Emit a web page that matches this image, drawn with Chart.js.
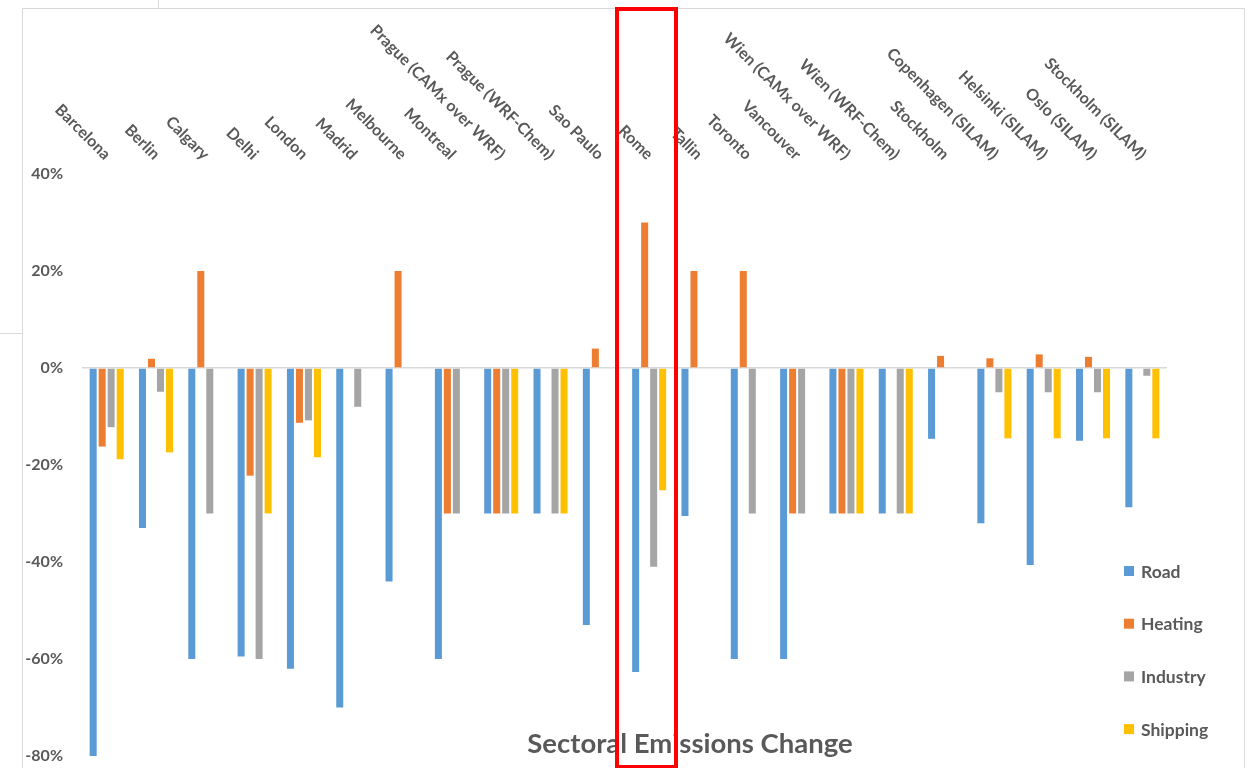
<!DOCTYPE html>
<html>
<head>
<meta charset="utf-8">
<title>Sectoral Emissions Change</title>
<script src="https://cdn.jsdelivr.net/npm/chart.js@4.4.1/dist/chart.umd.min.js"></script>
<style>
  html, body { margin: 0; padding: 0; background: #ffffff; overflow: hidden; }
  #wrap { position: relative; width: 1256px; height: 768px; overflow: hidden; }
  canvas { position: absolute; left: 0; top: 0; }
  .rule { position: absolute; background: #d9d9d9; }
  #highlight { position: absolute; left: 615px; top: 7px; width: 63px; height: 762px;
               box-sizing: border-box; border: 4px solid #ff0000; }
</style>
</head>
<body>
<div id="wrap">
  <canvas id="chart" width="1256" height="768"></canvas>
  <div class="rule" style="left:22px; top:8px; width:1222px; height:1px;"></div>
  <div class="rule" style="left:22px; top:8px; width:1px; height:760px;"></div>
  <div class="rule" style="left:1244px; top:8px; width:1px; height:760px;"></div>
  <div class="rule" style="left:158px; top:0px; width:1px; height:8px;"></div>
  <div class="rule" style="left:0px; top:333px; width:22px; height:1px;"></div>
  <div id="highlight"></div>
</div>
<script>
// Cities / model runs
const categories = [
  'Barcelona', 'Berlin', 'Calgary', 'Delhi', 'London', 'Madrid', 'Melbourne',
  'Montreal', 'Prague (CAMx over WRF)', 'Prague (WRF-Chem)', 'Sao Paulo', 'Rome',
  'Tallin', 'Toronto', 'Vancouver', 'Wien (CAMx over WRF)', 'Wien (WRF-Chem)',
  'Stockholm', 'Copenhagen (SILAM)', 'Helsinki (SILAM)', 'Oslo (SILAM)', 'Stockholm (SILAM)'
];

// Emission change per sector, in percent (null = sector not changed)
const road = [-80, -33, -60, -59.5, -62, -70, -44, -60, -30, -30, -53, -62.7,
              -30.5, -60, -60, -30, -30, -14.6, -32, -40.6, -15, -28.7];
const heating = [-16.2, 1.9, 20, -22.2, -11.3, null, 20, -30, -30, null, 4, 30,
                 20, 20, -30, -30, null, 2.5, 2, 2.8, 2.3, null];
const industry = [-12.2, -4.9, -30, -60, -10.8, -8, null, -30, -30, -30, null, -41,
                  null, -30, -30, -30, -30, null, -5, -5, -5, -1.6];
const shipping = [-18.8, -17.4, null, -30, -18.4, null, null, null, -30, -30, null, -25.2,
                  null, null, null, -30, -30, null, -14.5, -14.5, -14.5, -14.5];

const seriesNames = ['Road', 'Heating', 'Industry', 'Shipping'];
const seriesColors = ['#5b9bd5', '#ed7d31', '#a5a5a5', '#ffc000'];

// Y axis range and tick spacing (percent)
const yMin = -80, yMax = 40, yStep = 20;

const chartTitle = 'Sectoral Emissions Change';
const textGrey = '#595959';
const FONT = 'Lato, "Open Sans", sans-serif';

// Rotated city names above the plot, each ending at its category position
const categoryLabels = {
  id: 'categoryLabels',
  afterDraw(chart) {
    const ctx = chart.ctx;
    const xs = chart.scales.x;
    ctx.save();
    ctx.font = 'bold 16px ' + FONT;
    ctx.fillStyle = textGrey;
    ctx.textAlign = 'right';
    ctx.textBaseline = 'middle';
    categories.forEach((name, i) => {
      const x = xs.getPixelForValue(i);
      ctx.save();
      ctx.translate(x + 1, 157);
      ctx.rotate(Math.PI / 4);
      ctx.fillText(name, 0, 0);
      ctx.restore();
    });
    ctx.restore();
  }
};

// Legend stacked inside the lower right of the plot
const sideLegend = {
  id: 'sideLegend',
  afterDraw(chart) {
    const ctx = chart.ctx;
    ctx.save();
    ctx.font = 'bold 17.5px ' + FONT;
    ctx.textAlign = 'left';
    ctx.textBaseline = 'middle';
    chart.data.datasets.forEach((ds, i) => {
      const cy = 571 + i * 52.7;
      ctx.fillStyle = ds.backgroundColor;
      ctx.fillRect(1124, cy - 5, 10, 10);
      ctx.fillStyle = textGrey;
      ctx.fillText(ds.label, 1141, cy + 1);
    });
    ctx.restore();
  }
};

// Chart title drawn near the foot of the plot
const footTitle = {
  id: 'footTitle',
  afterDraw(chart) {
    const ctx = chart.ctx;
    ctx.save();
    ctx.font = 'bold 27.5px ' + FONT;
    ctx.fillStyle = textGrey;
    ctx.textAlign = 'center';
    ctx.textBaseline = 'alphabetic';
    ctx.fillText(chartTitle, 690, 753);
    ctx.restore();
  }
};

function build() {
  const values = [road, heating, industry, shipping];
  new Chart(document.getElementById('chart'), {
    type: 'bar',
    data: {
      labels: categories,
      datasets: seriesNames.map((name, i) => ({
        label: name,
        data: values[i],
        backgroundColor: seriesColors[i],
        borderWidth: 0,
        categoryPercentage: 0.73,
        barPercentage: 0.78
      }))
    },
    options: {
      responsive: false,
      animation: false,
      devicePixelRatio: 1,
      layout: { padding: { top: 174, bottom: 12, left: 0, right: 89 } },
      plugins: {
        legend: { display: false },
        title: { display: false },
        tooltip: { enabled: false }
      },
      scales: {
        x: { display: false },
        y: {
          min: yMin,
          max: yMax,
          afterFit(scale) { scale.width = 82; },
          ticks: {
            stepSize: yStep,
            padding: 0,
            color: textGrey,
            font: { family: FONT, size: 16, weight: 'bold' },
            callback: v => v + '%'
          },
          grid: {
            drawTicks: true,
            tickLength: 19,
            tickColor: 'rgba(0,0,0,0)',
            lineWidth: 1.5,
            color: c => (c.tick && c.tick.value === 0) ? '#d9d9d9' : 'rgba(0,0,0,0)'
          },
          border: { display: false }
        }
      }
    },
    plugins: [categoryLabels, sideLegend, footTitle]
  });
}

if (document.fonts && document.fonts.load) {
  Promise.all([
    document.fonts.load('bold 16px Lato'),
    document.fonts.load('bold 27px Lato')
  ]).then(build, build);
} else {
  build();
}
</script>
</body>
</html>
